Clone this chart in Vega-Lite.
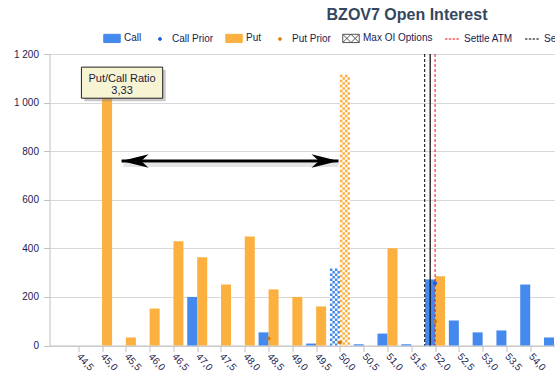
{
  "$schema": "https://vega.github.io/schema/vega-lite/v6.json",
  "width": 505.5,
  "height": 291.5,
  "autosize": {"type": "none"},
  "padding": {"left": 49.5, "top": 54, "right": 0, "bottom": 38.5},
  "background": "white",
  "title": {"text": "BZOV7 Open Interest", "frame": "group", "anchor": "middle", "dx": 104.75, "dy": 16.5, "font": "Liberation Sans", "fontSize": 16, "fontWeight": "bold", "color": "#34475f", "offset": 9.5, "baseline": "alphabetic"},
  "config": {
    "view": {"stroke": null},
    "axisX": {"labelOverlap": false, "labelFlush": false, "labelBound": false},
    "locale": {"number": {"decimal": ",", "thousands": "\u00a0", "grouping": [3], "currency": ["", ""]}}
  },
  "datasets": {
    "oi": [
      {"strike": 47.0, "type": "Call", "value": 200},
      {"strike": 48.5, "type": "Call", "value": 54},
      {"strike": 49.5, "type": "Call", "value": 8},
      {"strike": 50.5, "type": "Call", "value": 5},
      {"strike": 51.0, "type": "Call", "value": 49},
      {"strike": 51.5, "type": "Call", "value": 5},
      {"strike": 52.0, "type": "Call", "value": 272},
      {"strike": 52.5, "type": "Call", "value": 103},
      {"strike": 53.0, "type": "Call", "value": 54},
      {"strike": 53.5, "type": "Call", "value": 62},
      {"strike": 54.0, "type": "Call", "value": 251},
      {"strike": 54.5, "type": "Call", "value": 33},
      {"strike": 45.0, "type": "Put", "value": 1030},
      {"strike": 45.5, "type": "Put", "value": 33},
      {"strike": 46.0, "type": "Put", "value": 152},
      {"strike": 46.5, "type": "Put", "value": 429},
      {"strike": 47.0, "type": "Put", "value": 363},
      {"strike": 47.5, "type": "Put", "value": 251},
      {"strike": 48.0, "type": "Put", "value": 449},
      {"strike": 48.5, "type": "Put", "value": 231},
      {"strike": 49.0, "type": "Put", "value": 200},
      {"strike": 49.5, "type": "Put", "value": 161},
      {"strike": 51.0, "type": "Put", "value": 400},
      {"strike": 52.0, "type": "Put", "value": 285}
    ],
    "maxoi": [
      {"strike": 50.0, "type": "Call", "value": 317},
      {"strike": 50.0, "type": "Put", "value": 1115}
    ],
    "prior": [
      {"strike": 48.5, "type": "Put", "value": 29},
      {"strike": 50.0, "type": "Put", "value": 12},
      {"strike": 52.0, "type": "Call", "value": 256},
      {"strike": 52.0, "type": "Put", "value": 99}
    ],
    "lines": [
      {"name": "Settle Price", "strike": 51.782},
      {"name": "Last", "strike": 51.897},
      {"name": "Settle ATM", "strike": 52.0}
    ],
    "arrow": [{"from": 45.41, "to": 49.97, "level": 760}],
    "box": [{"x1": 44.566, "x2": 46.274, "top": 1146, "bottom": 1018}],
    "boxtext": [
      {"pos": 45.42, "level": 1086, "label": "Put/Call Ratio"},
      {"pos": 45.42, "level": 1035, "label": "3,33"}
    ],
    "legend": [
      {"series": "Call", "v": null},
      {"series": "Call Prior", "v": null},
      {"series": "Put", "v": null},
      {"series": "Put Prior", "v": null},
      {"series": "Max OI Options", "v": null},
      {"series": "Settle ATM", "v": null},
      {"series": "Settle Price", "v": null}
    ]
  },
  "layer": [
    {
      "data": {"name": "oi"},
      "transform": [{"filter": "datum.type === 'Call'"}],
      "mark": {"type": "bar", "orient": "vertical", "width": 10, "xOffset": -5, "color": "#4489ee"},
      "encoding": {
        "x": {"field": "strike", "type": "quantitative",
          "scale": {"domain": [44, 54.416], "nice": false, "zero": false},
          "axis": {"values": [44.5, 45, 45.5, 46, 46.5, 47, 47.5, 48, 48.5, 49, 49.5, 50, 50.5, 51, 51.5, 52, 52.5, 53, 53.5, 54],
            "tickCount": 40,
            "labelExpr": "replace(format(datum.value, '.1f'), '.', ',')",
            "labelAngle": 48, "labelAlign": "left", "labelBaseline": "middle", "labelPadding": 3,
            "tickSize": 6, "tickColor": "#c0c0c0", "domainColor": "#c0c0c0", "grid": false, "title": null,
            "labelFont": "Liberation Sans", "labelFontSize": 10, "labelColor": "#1b1b52",
            "labelFlush": false, "labelOverlap": false, "labelBound": false}},
        "y": {"field": "value", "type": "quantitative",
          "scale": {"domain": [0, 1200], "nice": false},
          "axis": {"values": [0, 200, 400, 600, 800, 1000, 1200], "tickCount": 20, "format": ",d", "tickSize": 6,
            "tickColor": "#c0c0c0", "domainColor": "#c0c0c0", "gridColor": "#d8d8d8", "grid": true,
            "labelPadding": 5, "title": null, "labelFont": "Liberation Sans", "labelFontSize": 10, "labelColor": "#1b1b52"}}
      }
    },
    {
      "data": {"name": "oi"},
      "transform": [{"filter": "datum.type === 'Put'"}],
      "mark": {"type": "bar", "orient": "vertical", "width": 10, "xOffset": 5, "color": "#fbb040"},
      "encoding": {
        "x": {"field": "strike", "type": "quantitative"},
        "y": {"field": "value", "type": "quantitative"}
      }
    },
    {
      "data": {"name": "maxoi"},
      "transform": [{"filter": "datum.type === 'Call'"}],
      "mark": {"type": "bar", "orient": "vertical", "width": 10, "xOffset": -5, "color": "white"},
      "encoding": {"x": {"field": "strike", "type": "quantitative"}, "y": {"field": "value", "type": "quantitative"}}
    },
    {
      "data": {"name": "maxoi"},
      "transform": [{"filter": "datum.type === 'Put'"}],
      "mark": {"type": "bar", "orient": "vertical", "width": 10, "xOffset": 5, "color": "white"},
      "encoding": {"x": {"field": "strike", "type": "quantitative"}, "y": {"field": "value", "type": "quantitative"}}
    },
    {"data": {"name": "maxoi"}, "transform": [{"filter": "datum.type === 'Call'"}],
      "mark": {"type": "rule", "xOffset": -8.75, "strokeWidth": 2.5, "strokeDash": [2.5, 2.5], "strokeDashOffset": 0, "color": "#4489ee"},
      "encoding": {"x": {"field": "strike", "type": "quantitative"}, "y": {"field": "value", "type": "quantitative"}, "y2": {"datum": 0}}},
    {"data": {"name": "maxoi"}, "transform": [{"filter": "datum.type === 'Call'"}],
      "mark": {"type": "rule", "xOffset": -6.25, "strokeWidth": 2.5, "strokeDash": [2.5, 2.5], "strokeDashOffset": 2.5, "color": "#4489ee"},
      "encoding": {"x": {"field": "strike", "type": "quantitative"}, "y": {"field": "value", "type": "quantitative"}, "y2": {"datum": 0}}},
    {"data": {"name": "maxoi"}, "transform": [{"filter": "datum.type === 'Call'"}],
      "mark": {"type": "rule", "xOffset": -3.75, "strokeWidth": 2.5, "strokeDash": [2.5, 2.5], "strokeDashOffset": 0, "color": "#4489ee"},
      "encoding": {"x": {"field": "strike", "type": "quantitative"}, "y": {"field": "value", "type": "quantitative"}, "y2": {"datum": 0}}},
    {"data": {"name": "maxoi"}, "transform": [{"filter": "datum.type === 'Call'"}],
      "mark": {"type": "rule", "xOffset": -1.25, "strokeWidth": 2.5, "strokeDash": [2.5, 2.5], "strokeDashOffset": 2.5, "color": "#4489ee"},
      "encoding": {"x": {"field": "strike", "type": "quantitative"}, "y": {"field": "value", "type": "quantitative"}, "y2": {"datum": 0}}},
    {"data": {"name": "maxoi"}, "transform": [{"filter": "datum.type === 'Put'"}],
      "mark": {"type": "rule", "xOffset": 1.25, "strokeWidth": 2.5, "strokeDash": [2.5, 2.5], "strokeDashOffset": 0, "color": "#fbb040"},
      "encoding": {"x": {"field": "strike", "type": "quantitative"}, "y": {"field": "value", "type": "quantitative"}, "y2": {"datum": 0}}},
    {"data": {"name": "maxoi"}, "transform": [{"filter": "datum.type === 'Put'"}],
      "mark": {"type": "rule", "xOffset": 3.75, "strokeWidth": 2.5, "strokeDash": [2.5, 2.5], "strokeDashOffset": 2.5, "color": "#fbb040"},
      "encoding": {"x": {"field": "strike", "type": "quantitative"}, "y": {"field": "value", "type": "quantitative"}, "y2": {"datum": 0}}},
    {"data": {"name": "maxoi"}, "transform": [{"filter": "datum.type === 'Put'"}],
      "mark": {"type": "rule", "xOffset": 6.25, "strokeWidth": 2.5, "strokeDash": [2.5, 2.5], "strokeDashOffset": 0, "color": "#fbb040"},
      "encoding": {"x": {"field": "strike", "type": "quantitative"}, "y": {"field": "value", "type": "quantitative"}, "y2": {"datum": 0}}},
    {"data": {"name": "maxoi"}, "transform": [{"filter": "datum.type === 'Put'"}],
      "mark": {"type": "rule", "xOffset": 8.75, "strokeWidth": 2.5, "strokeDash": [2.5, 2.5], "strokeDashOffset": 2.5, "color": "#fbb040"},
      "encoding": {"x": {"field": "strike", "type": "quantitative"}, "y": {"field": "value", "type": "quantitative"}, "y2": {"datum": 0}}},
    {"data": {"name": "lines"}, "transform": [{"filter": "datum.name === 'Settle Price'"}],
      "mark": {"type": "rule", "color": "black", "strokeWidth": 1, "strokeDash": [3, 2]},
      "encoding": {"x": {"field": "strike", "type": "quantitative"}}},
    {"data": {"name": "lines"}, "transform": [{"filter": "datum.name === 'Last'"}],
      "mark": {"type": "rule", "color": "black", "strokeWidth": 1.2},
      "encoding": {"x": {"field": "strike", "type": "quantitative"}}},
    {"data": {"name": "lines"}, "transform": [{"filter": "datum.name === 'Settle ATM'"}],
      "mark": {"type": "rule", "color": "#ee1111", "strokeWidth": 1, "strokeDash": [3, 2]},
      "encoding": {"x": {"field": "strike", "type": "quantitative"}}},
    {"data": {"name": "prior"}, "transform": [{"filter": "datum.type === 'Call'"}],
      "mark": {"type": "point", "filled": true, "size": 16, "opacity": 1, "color": "#1f5fd6"},
      "encoding": {"x": {"field": "strike", "type": "quantitative"}, "y": {"field": "value", "type": "quantitative"}}},
    {"data": {"name": "prior"}, "transform": [{"filter": "datum.type === 'Put'"}],
      "mark": {"type": "point", "filled": true, "size": 16, "opacity": 1, "color": "#c47a1a"},
      "encoding": {"x": {"field": "strike", "type": "quantitative"}, "y": {"field": "value", "type": "quantitative"}}},
    {"data": {"name": "arrow"},
      "mark": {"type": "rule", "color": "#777", "strokeWidth": 4, "opacity": 0.2, "yOffset": 4, "xOffset": 2},
      "encoding": {"x": {"field": "from", "type": "quantitative"}, "x2": {"field": "to"}, "y": {"field": "level", "type": "quantitative"}}},
    {"data": {"name": "arrow"},
      "mark": {"type": "rule", "color": "black", "strokeWidth": 3},
      "encoding": {"x": {"field": "from", "type": "quantitative"}, "x2": {"field": "to"}, "y": {"field": "level", "type": "quantitative"}}},
    {"data": {"name": "arrow"},
      "mark": {"type": "point", "filled": true, "opacity": 1, "color": "black", "size": 729, "shape": "M0,0L2,-0.5L1.45,0L2,0.5Z"},
      "encoding": {"x": {"field": "from", "type": "quantitative"}, "y": {"field": "level", "type": "quantitative"}}},
    {"data": {"name": "arrow"},
      "mark": {"type": "point", "filled": true, "opacity": 1, "color": "black", "size": 729, "shape": "M0,0L-2,-0.5L-1.45,0L-2,0.5Z"},
      "encoding": {"x": {"field": "to", "type": "quantitative"}, "y": {"field": "level", "type": "quantitative"}}},
    {"data": {"name": "box"},
      "mark": {"type": "rect", "color": "#888", "opacity": 0.45, "xOffset": 3, "yOffset": 3, "x2Offset": 3, "y2Offset": 3},
      "encoding": {"x": {"field": "x1", "type": "quantitative"}, "x2": {"field": "x2"}, "y": {"field": "top", "type": "quantitative"}, "y2": {"field": "bottom"}}},
    {"data": {"name": "box"},
      "mark": {"type": "rect", "fill": "#f7f4d4", "stroke": "#222", "strokeWidth": 1},
      "encoding": {"x": {"field": "x1", "type": "quantitative"}, "x2": {"field": "x2"}, "y": {"field": "top", "type": "quantitative"}, "y2": {"field": "bottom"}}},
    {"data": {"name": "boxtext"},
      "mark": {"type": "text", "font": "Liberation Sans", "fontSize": 11, "color": "#1b1b3a", "align": "center", "baseline": "alphabetic"},
      "encoding": {"x": {"field": "pos", "type": "quantitative"}, "y": {"field": "level", "type": "quantitative"}, "text": {"field": "label"}}},
    {"data": {"name": "legend"},
      "mark": {"type": "point", "filled": true, "opacity": 1},
      "encoding": {
        "y": {"field": "v", "type": "quantitative"},
        "fill": {"field": "series", "type": "nominal",
          "scale": {"domain": ["Call", "Call Prior", "Put", "Put Prior", "Max OI Options", "Settle ATM", "Settle Price"],
            "range": ["#4489ee", "#1f5fd6", "#fbb040", "#d9891f", "white", "transparent", "transparent"]},
          "legend": {"orient": "none", "legendX": 53.5, "legendY": -25, "direction": "horizontal", "title": null, "symbolSize": 272,
            "labelFont": "Liberation Sans", "labelFontSize": 10, "labelColor": "#1b1b52", "labelOffset": 3, "columnPadding": 9, "symbolStrokeWidth": 1}},
        "stroke": {"field": "series", "type": "nominal",
          "scale": {"domain": ["Call", "Call Prior", "Put", "Put Prior", "Max OI Options", "Settle ATM", "Settle Price"],
            "range": ["#4489ee", "#1f5fd6", "#fbb040", "#d9891f", "#555555", "#ee1111", "black"]},
          "legend": {"orient": "none", "legendX": 53.5, "legendY": -25, "direction": "horizontal", "title": null, "symbolSize": 272,
            "labelFont": "Liberation Sans", "labelFontSize": 10, "labelColor": "#1b1b52", "labelOffset": 3, "columnPadding": 9, "symbolStrokeWidth": 1}},
        "shape": {"field": "series", "type": "nominal",
          "scale": {"domain": ["Call", "Call Prior", "Put", "Put Prior", "Max OI Options", "Settle ATM", "Settle Price"],
            "range": ["M-1,-0.5H1V0.5H-1Z",
              "M0.18,0A0.18,0.18,0,1,1,-0.18,0A0.18,0.18,0,1,1,0.18,0Z",
              "M-1,-0.5H1V0.5H-1Z",
              "M0.18,0A0.18,0.18,0,1,1,-0.18,0A0.18,0.18,0,1,1,0.18,0Z",
              "M-1,-0.5H1V0.5H-1Z M-1,-0.5L0,0.5 M0,-0.5L-1,0.5 M0,-0.5L1,0.5 M1,-0.5L0,0.5",
              "M-0.85,0H-0.55M-0.39,0H-0.09M0.07,0H0.37M0.53,0H0.83",
              "M-0.85,0H-0.55M-0.39,0H-0.09M0.07,0H0.37M0.53,0H0.83"]},
          "legend": {"orient": "none", "legendX": 53.5, "legendY": -25, "direction": "horizontal", "title": null, "symbolSize": 272,
            "labelFont": "Liberation Sans", "labelFontSize": 10, "labelColor": "#1b1b52", "labelOffset": 3, "columnPadding": 9, "symbolStrokeWidth": 1}}
      }
    }
  ]
}
